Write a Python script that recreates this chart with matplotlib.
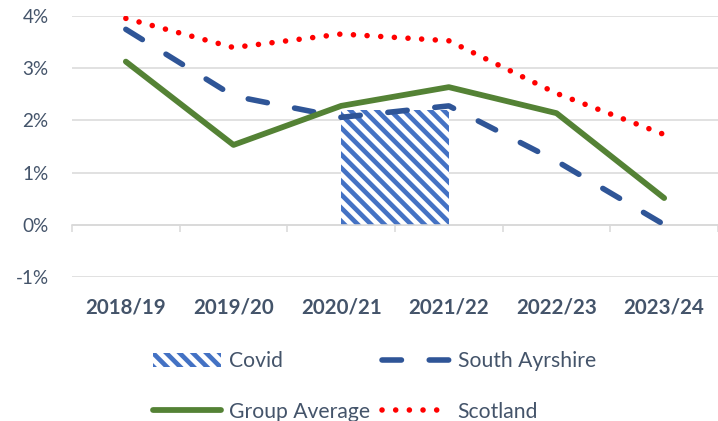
import matplotlib
matplotlib.use("Agg")
import matplotlib.pyplot as plt
import numpy as np

years = ["2018/19", "2019/20", "2020/21", "2021/22", "2022/23", "2023/24"]
south_ayrshire = [3.75, 2.47, 2.06, 2.28, 1.22, 0.0]
group_average = [3.13, 1.53, 2.28, 2.64, 2.14, 0.51]
scotland = [3.96, 3.40, 3.66, 3.53, 2.52, 1.73]
covid_pos = [2.5]      # spans 2020/21 to 2021/22
covid_value = [2.2]

text_col = "#44546A"
grid_col = "#D9D9D9"

plt.rcParams["font.family"] = ["Lato", "DejaVu Sans"]
plt.rcParams["hatch.linewidth"] = 4.2
plt.rcParams["hatch.color"] = "#4472C4"

dpi = 80
fig = plt.figure(figsize=(718 / dpi, 421 / dpi), dpi=dpi)
ax = fig.add_axes([72 / 718, 1 - 276.7 / 421, (718 - 72) / 718, (276.7 - 16.3) / 421])

x = np.arange(len(years))

covid = ax.bar(covid_pos, covid_value, width=1.0, facecolor="white",
               edgecolor="#4472C4", linewidth=0, hatch="\\\\", label="Covid", zorder=2)
sa, = ax.plot(x, south_ayrshire, color="#2F5597", lw=5, linestyle=(0, (3.5, 5.0)),
              dash_capstyle="round", label="South Ayrshire", zorder=3)
ga, = ax.plot(x, group_average, color="#548235", lw=5.2, solid_capstyle="round",
              label="Group Average", zorder=4)
sc, = ax.plot(x, scotland, color="#FF0000", lw=5, linestyle=(0, (0.01, 2.45)),
              dash_capstyle="round", label="Scotland", zorder=5)

ax.set_xlim(-0.5, 5.5)
ax.set_ylim(-1, 4)
ax.set_yticks(range(-1, 5))
ax.set_yticklabels([f"{v}%" for v in range(-1, 5)])
ax.tick_params(axis="y", length=0, pad=21, labelsize=17, labelcolor=text_col)
ax.grid(axis="y", color=grid_col, lw=1.4)
ax.set_axisbelow(True)

for s in ["top", "right", "left"]:
    ax.spines[s].set_visible(False)
ax.spines["bottom"].set_position(("data", 0))
ax.spines["bottom"].set_color(grid_col)
ax.spines["bottom"].set_linewidth(1.4)
ax.set_xticks([])
ax.set_xticks(np.arange(-0.5, 6, 1), minor=True)
ax.tick_params(axis="x", which="minor", length=6, width=1.4, color=grid_col)

sec = ax.secondary_xaxis(0)
sec.set_xticks(x, labels=years)
sec.tick_params(length=0, pad=19, labelsize=18.5, labelcolor=text_col)
for lab in sec.get_xticklabels():
    lab.set_fontweight("bold")
sec.spines["bottom"].set_visible(False)

fig.legend(handles=[covid, ga, sa, sc], ncol=2, loc="upper left",
           bbox_to_anchor=(153 / 718, 1 - 351 / 421), frameon=False,
           fontsize=19, labelcolor=text_col, handlelength=3.2, handleheight=0.65,
           handletextpad=0.4, columnspacing=0.55, labelspacing=1.45,
           borderpad=0, borderaxespad=0)

fig.savefig("out.png", dpi=dpi)
